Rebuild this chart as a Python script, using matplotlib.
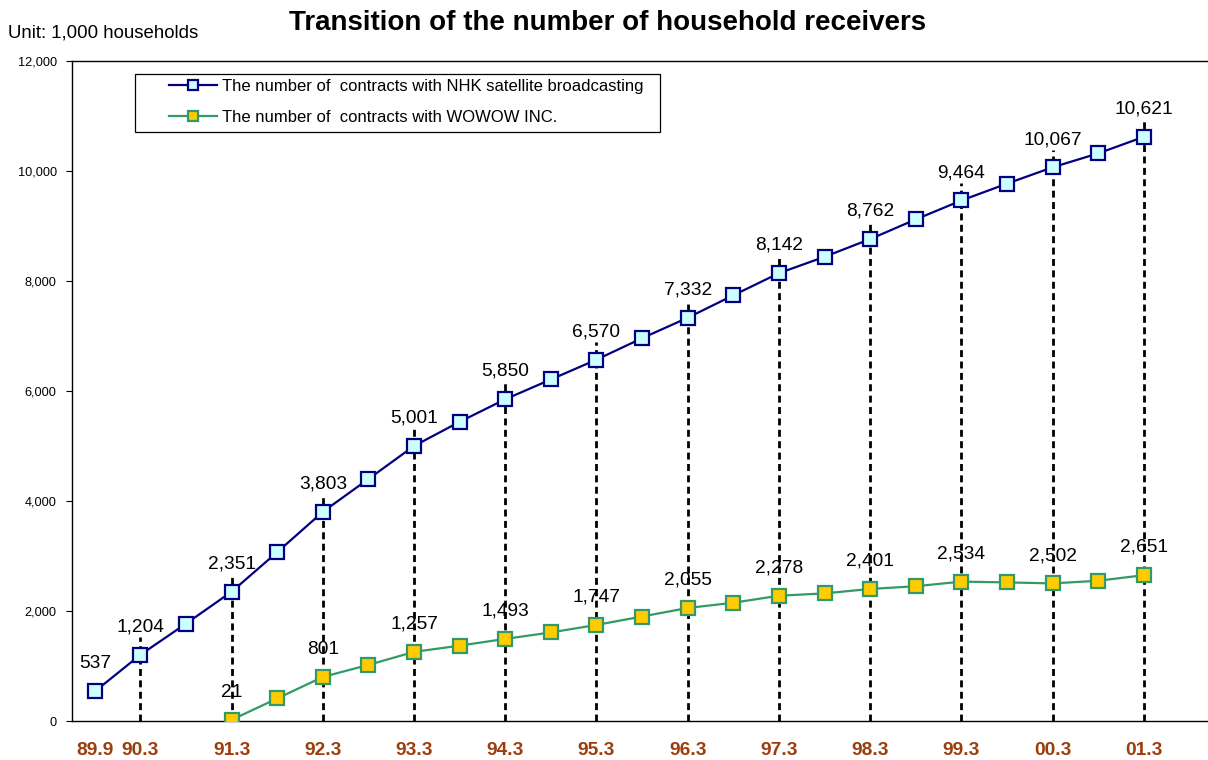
import matplotlib
matplotlib.use("Agg")
import matplotlib.pyplot as plt
from matplotlib.patches import Rectangle

plt.rcParams['font.family'] = ['Liberation Sans', 'DejaVu Sans']

# half-year periods, 89.9 .. 01.3
periods = ['89.9', '90.3', '90.9', '91.3', '91.9', '92.3', '92.9', '93.3', '93.9',
           '94.3', '94.9', '95.3', '95.9', '96.3', '96.9', '97.3', '97.9', '98.3',
           '98.9', '99.3', '99.9', '00.3', '00.9', '01.3']
nhk = [537, 1204, 1770, 2351, 3070, 3803, 4400, 5001, 5440, 5850, 6210, 6570,
       6960, 7332, 7740, 8142, 8440, 8762, 9120, 9464, 9770, 10067, 10320, 10621]
# WOWOW starts at 91.3
wowow_periods = periods[3:]
wowow = [21, 410, 801, 1020, 1257, 1370, 1493, 1610, 1747, 1900, 2055, 2150,
         2278, 2320, 2401, 2450, 2534, 2520, 2502, 2550, 2651]

x = list(range(len(periods)))
xw = [periods.index(p) for p in wowow_periods]
labeled = [i for i, p in enumerate(periods) if i == 0 or p.endswith('.3')]

fig = plt.figure(figsize=(12.08, 7.6), dpi=100)
ax = fig.add_axes([72 / 1208, 1 - 721 / 760, 1 - 72 / 1208, 660 / 760])

# dashed guide lines at each March
for i in labeled[1:]:
    ax.plot([i, i], [0, nhk[i] + 320], color='black', lw=2,
            linestyle=(0, (2.5, 1.6)), zorder=1)

ax.plot(x, nhk, color='#000080', lw=1.6, marker='s', ms=9.5,
        mfc='#CCFFFF', mec='#000080', mew=1.6, zorder=3,
        label='The number of  contracts with NHK satellite broadcasting')
ax.plot(xw, wowow, color='#339966', lw=1.6, marker='s', ms=9.5,
        mfc='#FFCC00', mec='#339966', mew=1.6, zorder=3,
        label='The number of  contracts with WOWOW INC.')

for i in labeled:
    ax.annotate(f'{nhk[i]:,}', (i, nhk[i]), xytext=(0, 20), textcoords='offset points',
                ha='center', va='center', fontsize=13.8, zorder=4)
for i, v in zip(xw, wowow):
    if i in labeled:
        ax.annotate(f'{v:,}', (i, v), xytext=(0, 20), textcoords='offset points',
                    ha='center', va='center', fontsize=13.8, zorder=4)

ax.set_xlim(-0.5, (1208 - 95) / 45.6)
ax.set_ylim(0, 12000)
ax.set_yticks(range(0, 12001, 2000))
ax.set_yticklabels([f'{v:,}' for v in range(0, 12001, 2000)], fontsize=9.2)
ax.set_xticks(labeled)
ax.set_xticklabels([periods[i] for i in labeled], fontsize=13.8, fontweight='bold',
                   color='#9C3D0C')
ax.tick_params(axis='x', length=0, pad=15)
ax.tick_params(axis='y', length=4, pad=7, direction='out')
ax.spines['right'].set_visible(False)
for s in ['left', 'top', 'bottom']:
    ax.spines[s].set_linewidth(1.0)

# legend box
ax.add_patch(Rectangle((63 / 1136, 1 - 71 / 660), 525 / 1136, 58 / 660,
                       transform=ax.transAxes, fill=False, edgecolor='black',
                       lw=0.9, zorder=5))
ax.legend(loc='upper left', bbox_to_anchor=(97 / 1136, 1 - 18 / 660), frameon=False,
          fontsize=12, borderpad=0, borderaxespad=0, handlelength=2.9,
          handletextpad=0.25, labelspacing=0.95, markerscale=0.75)

fig.text(608 / 1208, 1 - 23 / 760, 'Transition of the number of household receivers',
         ha='center', va='center', fontsize=20, fontweight='bold')
fig.text(8 / 1208, 1 - 33 / 760, 'Unit: 1,000 households', ha='left', va='center',
         fontsize=13.4)

fig.savefig('out.png', dpi=100)
